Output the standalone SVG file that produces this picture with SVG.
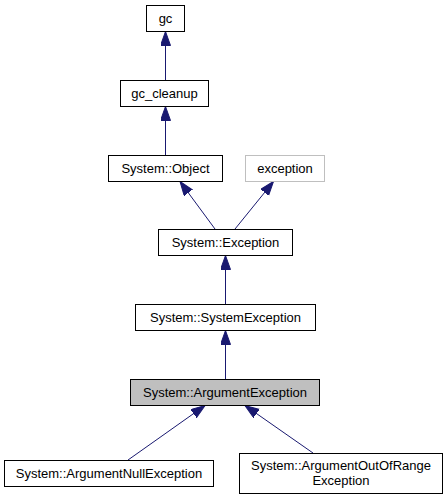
<svg xmlns="http://www.w3.org/2000/svg" width="448" height="500" viewBox="0 0 448 500">
<style>
.n rect{fill:#fff;stroke:#000;stroke-width:1}
.n.g rect{stroke:#bfbfbf}
.n.cur rect{fill:#bfbfbf}
text{font-family:"Liberation Sans",Arial,sans-serif;font-size:13px;fill:#000;text-anchor:middle}
.e line{stroke:#191970;stroke-width:1;marker-end:url(#ah)}
</style>
<defs>
<marker id="ah" markerUnits="userSpaceOnUse" markerWidth="16" markerHeight="12" refX="14" refY="5" orient="auto">
<path d="M0,0 L14,5 L0,10 Z" fill="#191970" stroke="#191970" stroke-width="1"/>
</marker>
</defs>
<rect width="448" height="500" fill="#fff"/>
<g class="e">
<line x1="165.5" y1="80" x2="165.5" y2="31.5"/>
<line x1="165.5" y1="155" x2="165.5" y2="106.5"/>
<line x1="215" y1="229" x2="180" y2="181.5"/>
<line x1="235" y1="229" x2="273.5" y2="181.5"/>
<line x1="225.5" y1="304" x2="225.5" y2="255.5"/>
<line x1="225.5" y1="379" x2="225.5" y2="330.5"/>
<line x1="128" y1="460" x2="205" y2="405.5"/>
<line x1="313" y1="453" x2="245" y2="405.5"/>
</g>
<g id="gc" class="n"><rect x="146.5" y="5.5" width="38" height="26"/><text x="165.5" y="23">gc</text></g>
<g id="gc_cleanup" class="n"><rect x="120.5" y="80.5" width="88" height="26"/><text x="164.5" y="98">gc_cleanup</text></g>
<g id="object" class="n"><rect x="108.5" y="155.5" width="114" height="26"/><text x="165.5" y="173">System::Object</text></g>
<g id="exception" class="n g"><rect x="245.5" y="155.5" width="79" height="26"/><text x="285" y="173">exception</text></g>
<g id="sys_exception" class="n"><rect x="158.5" y="229.5" width="134" height="26"/><text x="225.5" y="247">System::Exception</text></g>
<g id="system_exception" class="n"><rect x="135.5" y="304.5" width="180" height="26"/><text x="225.5" y="322">System::SystemException</text></g>
<g id="argument_exception" class="n cur"><rect x="130.5" y="379.5" width="189" height="26"/><text x="225" y="397">System::ArgumentException</text></g>
<g id="argument_null" class="n"><rect x="4.5" y="460.5" width="209" height="26"/><text x="109" y="478">System::ArgumentNullException</text></g>
<g id="argument_out_of_range" class="n"><rect x="239.5" y="453.5" width="203" height="40"/><text x="341" y="470">System::ArgumentOutOfRange</text><text x="341" y="485">Exception</text></g>
</svg>
